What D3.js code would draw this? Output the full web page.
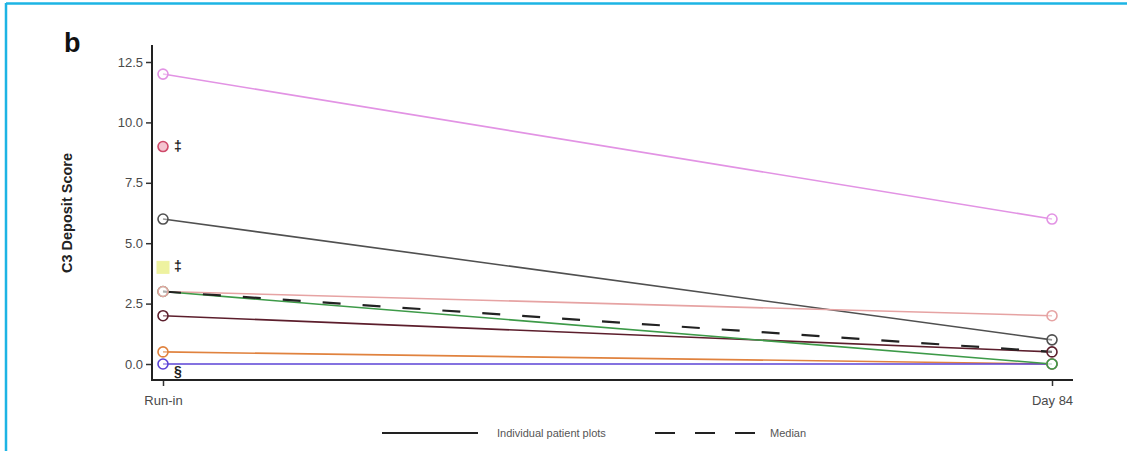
<!DOCTYPE html>
<html>
<head>
<meta charset="utf-8">
<script src="https://cdn.jsdelivr.net/npm/d3@7"></script>
<style>
  html, body { margin: 0; padding: 0; background: #fff; }
  svg { display: block; font-family: "Liberation Sans", Arial, sans-serif; }
</style>
</head>
<body>
<svg id="chart" width="1127" height="451"></svg>
<script>
// Time points on the x axis
const timepoints = ["Run-in", "Day 84"];

// C3 deposit score per patient: [run-in, day 84] (null = not measured)
const patientNames  = ["P1", "P2", "P3", "P4", "P5", "P6", "P7", "P8", "P9"];
const patientRunIn  = [12, 9, 6, 4, 3, 3, 2, 0.5, 0];
const patientDay84  = [6, null, 1, null, 2, 0, 0.5, 0, 0];
const patientColors = ["#e293e4", "#cf4a6a", "#505050", "#eef2a0", "#e6a3a3", "#3d9a48", "#5c1e2c", "#e0823e", "#5b43d6"];
const patientShapes = ["circle", "circle", "circle", "square", "circle", "circle", "circle", "circle", "circle"];
const patientFill   = ["none", "#f4c4d0", "none", "#eef2a0", "none", "none", "none", "none", "none"];

// Median across patients
const medianValues = [3, 0.5];

// Footnote marks placed next to run-in points
const noteLabels = [
  { text: "\u2021", value: 9 },
  { text: "\u2021", value: 4 },
  { text: "\u00a7", value: 0 }
];

const yTicks = [0, 2.5, 5, 7.5, 10, 12.5];

const svg = d3.select("#chart");

// Page frame
svg.append("line").attr("x1", 6).attr("x2", 1127).attr("y1", 3.5).attr("y2", 3.5)
  .attr("stroke", "#1db4e4").attr("stroke-width", 2.5);
svg.append("line").attr("x1", 6).attr("x2", 6).attr("y1", 3).attr("y2", 451)
  .attr("stroke", "#1db4e4").attr("stroke-width", 2.5);

const x = d3.scalePoint().domain(timepoints).range([163, 1052]);
const y = d3.scaleLinear().domain([0, 12.5]).range([364, 62]);

// Axes
const yAxis = d3.axisLeft(y).tickValues(yTicks).tickFormat(d3.format(".1f")).tickSize(6).tickSizeOuter(0);
const yg = svg.append("g").attr("transform", "translate(152,0)").call(yAxis);
yg.select(".domain").remove();
svg.append("line").attr("x1", 152).attr("x2", 152).attr("y1", 45).attr("y2", 381)
  .attr("stroke", "#222").attr("stroke-width", 2);
yg.selectAll(".tick line").attr("stroke", "#333").attr("stroke-width", 1.5);
yg.selectAll(".tick text").attr("fill", "#4a4a4a").attr("font-size", 13).attr("x", -9);

const xAxis = d3.axisBottom(x).tickSize(6).tickSizeOuter(0);
const xg = svg.append("g").attr("transform", "translate(0,380)").call(xAxis);
xg.select(".domain").remove();
svg.append("line").attr("x1", 151).attr("x2", 1073).attr("y1", 380).attr("y2", 380)
  .attr("stroke", "#222").attr("stroke-width", 2);
xg.selectAll(".tick line").attr("stroke", "#333").attr("stroke-width", 1.5);
xg.selectAll(".tick text").attr("fill", "#4a4a4a").attr("font-size", 13).attr("dy", "1.25em");

// Axis title and panel letter
svg.append("text").attr("transform", "translate(72,213) rotate(-90)")
  .attr("text-anchor", "middle").attr("font-size", 14.5).attr("font-weight", "bold")
  .attr("fill", "#222").text("C3 Deposit Score");
svg.append("text").attr("x", 64).attr("y", 52).attr("font-size", 27)
  .attr("font-weight", "bold").attr("fill", "#111").text("b");

// Patient data rows
const patients = patientNames.map((name, i) => ({
  name,
  values: [patientRunIn[i], patientDay84[i]],
  color: patientColors[i],
  shape: patientShapes[i],
  fill: patientFill[i]
}));

const line = d3.line()
  .defined(d => d.v != null)
  .x(d => x(d.t))
  .y(d => y(d.v));

const lineOrder = [0, 2, 4, 6, 7, 8, 5];
lineOrder.forEach(i => {
  const p = patients[i];
  const pts = timepoints.map((t, k) => ({ t, v: p.values[k] }));
  if (pts.every(d => d.v != null)) {
    svg.append("path").datum(pts).attr("d", line)
      .attr("fill", "none").attr("stroke", p.color).attr("stroke-width", 1.6);
  }
});

// Median line
svg.append("path")
  .datum(timepoints.map((t, k) => ({ t, v: medianValues[k] })))
  .attr("d", line)
  .attr("fill", "none").attr("stroke", "#222").attr("stroke-width", 2.2)
  .attr("stroke-dasharray", "18,22");

// Markers, drawn from the lowest row upward so higher rows sit on top
const markerOrder = [8, 7, 6, 5, 4, 3, 2, 1, 0];
markerOrder.forEach(i => {
  const p = patients[i];
  timepoints.forEach((t, k) => {
    const v = p.values[k];
    if (v == null) return;
    if (p.shape === "square") {
      svg.append("rect").attr("x", x(t) - 6).attr("y", y(v) - 6)
        .attr("width", 12).attr("height", 12)
        .attr("fill", p.fill).attr("stroke", p.color).attr("stroke-width", 1);
    } else {
      svg.append("circle").attr("cx", x(t)).attr("cy", y(v)).attr("r", 5)
        .attr("fill", p.fill === "none" ? "#fff" : p.fill).attr("fill-opacity", p.fill === "none" ? 0.4 : 1)
        .attr("stroke", p.color).attr("stroke-width", 1.6);
    }
  });
});

// Footnote marks
noteLabels.forEach(n => {
  svg.append("text").attr("x", 178).attr("y", y(n.value) + (n.text === "\u00a7" ? 12 : 4))
    .attr("text-anchor", "middle").attr("font-size", 14).attr("font-weight", "bold")
    .attr("fill", "#222").text(n.text);
});

// Legend
const lg = svg.append("g").attr("transform", "translate(0,433)");
lg.append("line").attr("x1", 382).attr("x2", 478).attr("y1", 0).attr("y2", 0)
  .attr("stroke", "#222").attr("stroke-width", 2);
lg.append("text").attr("x", 497).attr("y", 4).attr("font-size", 11).attr("fill", "#555")
  .text("Individual patient plots");
lg.append("line").attr("x1", 655).attr("x2", 755).attr("y1", 0).attr("y2", 0)
  .attr("stroke", "#222").attr("stroke-width", 2).attr("stroke-dasharray", "20,20");
lg.append("text").attr("x", 770).attr("y", 4).attr("font-size", 11).attr("fill", "#555")
  .text("Median");
</script>
</body>
</html>
